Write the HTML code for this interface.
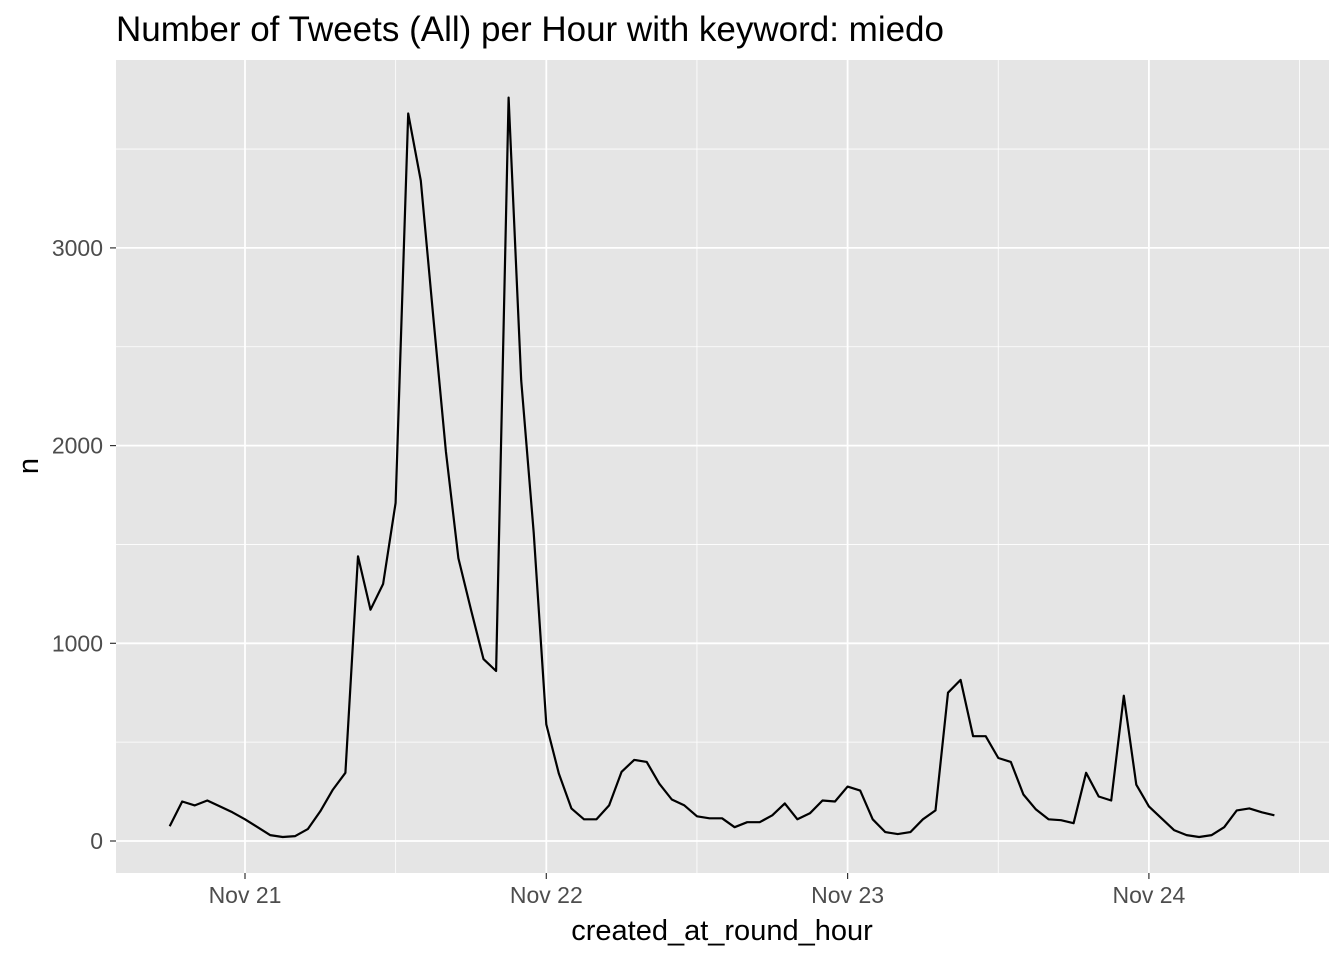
<!DOCTYPE html>
<html><head><meta charset="utf-8"><style>
body{margin:0;background:#fff;}
svg{display:block;font-family:"Liberation Sans",Arial,sans-serif;}
</style></head><body>
<svg id="chart" width="1344" height="960">
<text x="116" y="41" font-size="35" fill="#000">Number of Tweets (All) per Hour with keyword: miedo</text>
<rect x="116" y="60" width="1213" height="813" fill="#e5e5e5"/>
<g id="grid"></g>
<g id="axes"></g>
<path id="line" fill="none" stroke="#000" stroke-width="2.2" stroke-linejoin="round"/>
<text x="722" y="940" font-size="29" text-anchor="middle" fill="#000">created_at_round_hour</text>
<text transform="translate(38,466) rotate(-90)" font-size="29" text-anchor="middle" fill="#000">n</text>
</svg>
<script>
const hours = [-6,-5,-4,-3,-2,-1,0,1,2,3,4,5,6,7,8,9,10,11,12,13,14,15,16,17,18,19,20,21,22,23,24,25,26,27,28,29,30,31,32,33,34,35,36,37,38,39,40,41,42,43,44,45,46,47,48,49,50,51,52,53,54,55,56,57,58,59,60,61,62,63,64,65,66,67,68,69,70,71,72,73,74,75,76,77,78,79,80,81,82];
const counts = [75,200,180,205,175,145,110,70,30,20,25,60,150,260,345,1440,1170,1300,1710,3680,3340,2650,1970,1430,1170,920,860,3760,2330,1560,590,340,165,110,110,180,350,410,400,290,210,180,125,115,115,70,95,95,130,190,110,140,205,200,275,255,110,45,35,45,110,155,750,815,530,530,420,400,235,160,110,105,90,345,225,205,735,285,175,115,55,30,20,30,70,155,165,145,130];
const yTicks = [0,1000,2000,3000];
const yMinor = [500,1500,2500,3500];
const xTickDays = [0,1,2,3];
const xTickLabels = ["Nov 21","Nov 22","Nov 23","Nov 24"];
const xMinorDays = [-0.5,0.5,1.5,2.5,3.5];

const NS="http://www.w3.org/2000/svg";
const xs = h => 245 + h*(301.3/24);
const ys = v => 841 - v*0.1977;
const grid=document.getElementById('grid'), axes=document.getElementById('axes');
function mk(tag,attrs,parent){const e=document.createElementNS(NS,tag);for(const k in attrs)e.setAttribute(k,attrs[k]);parent.appendChild(e);return e;}
yMinor.forEach(v=>{const l=mk('line',{x1:116,x2:1329,y1:ys(v),y2:ys(v),stroke:'#fff','stroke-width':0.8},grid);

});
xMinorDays.forEach(d=>{const x=xs(d*24);if(x<116||x>1329)return;const l=mk('line',{x1:x,x2:x,y1:60,y2:873,stroke:'#fff','stroke-width':0.8},grid);

});
yTicks.forEach(v=>{const y=ys(v);
const l=mk('line',{x1:116,x2:1329,y1:y,y2:y,stroke:'#fff','stroke-width':1.8},grid);


const t=mk('line',{x1:110,x2:116,y1:y,y2:y,stroke:'#333','stroke-width':1.2},axes);


const tx=mk('text',{x:103,y:y+8,'font-size':23,'text-anchor':'end',fill:'#4d4d4d'},axes);tx.textContent=v;

});
xTickDays.forEach((d,i)=>{const x=xs(d*24);
const l=mk('line',{x1:x,x2:x,y1:60,y2:873,stroke:'#fff','stroke-width':1.8},grid);


const t=mk('line',{x1:x,x2:x,y1:873,y2:879,stroke:'#333','stroke-width':1.2},axes);


const tx=mk('text',{x:x,y:903,'font-size':23,'text-anchor':'middle',fill:'#4d4d4d'},axes);tx.textContent=xTickLabels[i];

});
document.getElementById('line').setAttribute('d',hours.map((h,i)=>(i?'L':'M')+xs(h).toFixed(1)+','+ys(counts[i]).toFixed(1)).join(''));
</script>
</body></html>
